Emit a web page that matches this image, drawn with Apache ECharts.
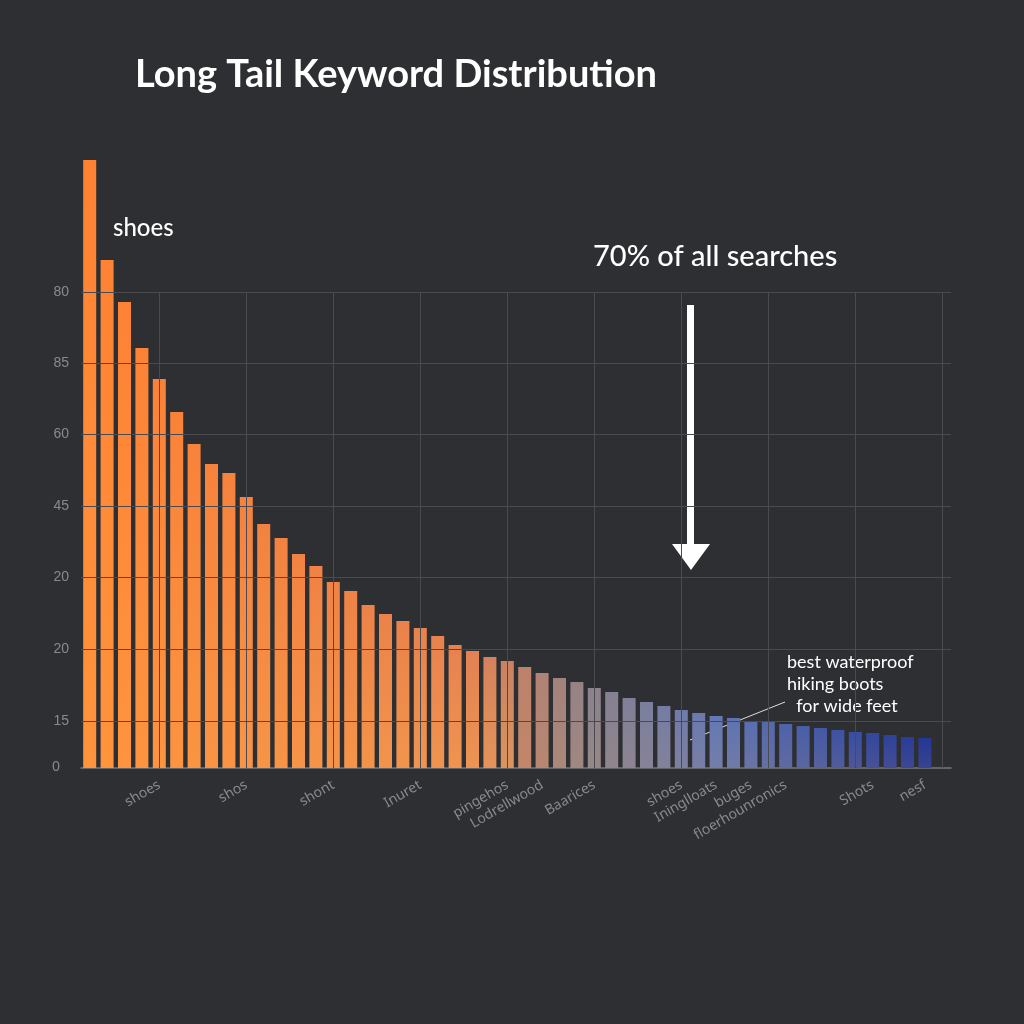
<!DOCTYPE html>
<html><head><meta charset="utf-8">
<script src="https://cdn.jsdelivr.net/npm/echarts@6/dist/echarts.min.js"></script>
<style>html,body{margin:0;background:#2e2f33}#c{width:1024px;height:1024px}</style></head>
<body><div id="c"></div>
<script>
const values=[608,508,466,420,389,356,324,304,295,271,244,230,214,202,186,177,163,154,147,140,132,123,117,111,107,101,95,90,86,80,76,70,66,62,58,55,52,50,47,46,44,42,40,38,36,35,33,31,30,0];
const tickLabels={4:'shoes',9:'shos',14:'shont',19:'Inuret',24:'pingehos',26:'Lodrellwood',29:'Baarices',34:'shoes',36:'Ininglloats',38:'buges',40:'floerhounronics',45:'Shots',48:'nesf'};
const gridValues=[47,119,191,262,334,405,476];
const gridLabels=['15','20','20','45','60','85','80'];
const vLineIdx=[4,9,14,19,24,29,34,39,44,49];
const categories=values.map((v,i)=>String(i));
function lerp(a,b,t){return a.map((x,k)=>Math.round(x+(b[k]-x)*t));}
function col(i){
  const stops=[[0,[255,130,50]],[0.45,[230,130,80]],[0.6,[140,130,140]],[0.75,[100,120,180]],[1,[35,55,150]]];
  const t=i/48;let j=0;while(j<stops.length-2&&t>stops[j+1][0])j++;
  const [t0,c0]=stops[j],[t1,c1]=stops[j+1];return lerp(c0,c1,Math.min(1,(t-t0)/(t1-t0)));
}
const data=values.map((v,i)=>{const c=col(i);const b=lerp(c,[255,180,80],i<25?0.35:0.1);
 return {value:v,itemStyle:{color:{type:'linear',x:0,y:0,x2:0,y2:1,colorStops:[{offset:0,color:`rgb(${c})`},{offset:1,color:`rgb(${b})`}]}}};});
const chart=echarts.init(document.getElementById('c'));
chart.setOption({
 backgroundColor:'#2e2f33',
 grid:{left:81,top:148,width:870,height:620},
 xAxis:{type:'category',data:categories,axisTick:{show:false},
  axisLine:{lineStyle:{color:'#777',width:1.5}},
  axisLabel:{interval:0,rotate:30,color:'#8a8a8a',fontSize:14,fontFamily:'Noto Sans',margin:16,formatter:(v,i)=>tickLabels[i]||''},splitLine:{show:false}},
 yAxis:{type:'value',min:0,max:620,show:false,splitLine:{show:false}},
 series:[
  {type:'line',data:[],z:1,silent:true,
   markLine:{silent:true,symbol:'none',animation:false,
   lineStyle:{color:'#4a4b50',type:'solid',width:1},
   label:{show:false},
   data:[...gridValues.map((v,k)=>({yAxis:v,label:{show:true,position:'start',formatter:gridLabels[k],color:'#8a8a8a',fontSize:14,distance:12}})),
         ...vLineIdx.map(i=>[{coord:[String(i),0]},{coord:[String(i),476]}])]}},
  {type:'bar',data:data,barWidth:13,z:3}
 ],
 graphic:[
  {type:'text',left:135,top:56,style:{text:'Long Tail Keyword Distribution',fill:'#fff',font:'bold 38px Lato'}},
  {type:'text',left:113,top:216,style:{text:'shoes',fill:'#fff',font:'500 24px Lato'}},
  {type:'text',left:593,top:242,style:{text:'70% of all searches',fill:'#fff',font:'500 29px Lato'}},
  {type:'text',left:52,top:760,style:{text:'0',fill:'#8a8a8a',font:'14px "Noto Sans"'}},
  {type:'rect',shape:{x:687,y:305,width:7,height:245},style:{fill:'#fff'}},
  {type:'polygon',shape:{points:[[672,544],[710,544],[691,570]]},style:{fill:'#fff'}},
  {type:'line',shape:{x1:690,y1:740,x2:785,y2:702},style:{stroke:'#ddd',lineWidth:1}},
  {type:'text',left:787,top:651,style:{text:'best waterproof\nhiking boots\n  for wide feet',fill:'#fff',font:'18px Lato',lineHeight:22}}
 ]
});
</script></body></html>
